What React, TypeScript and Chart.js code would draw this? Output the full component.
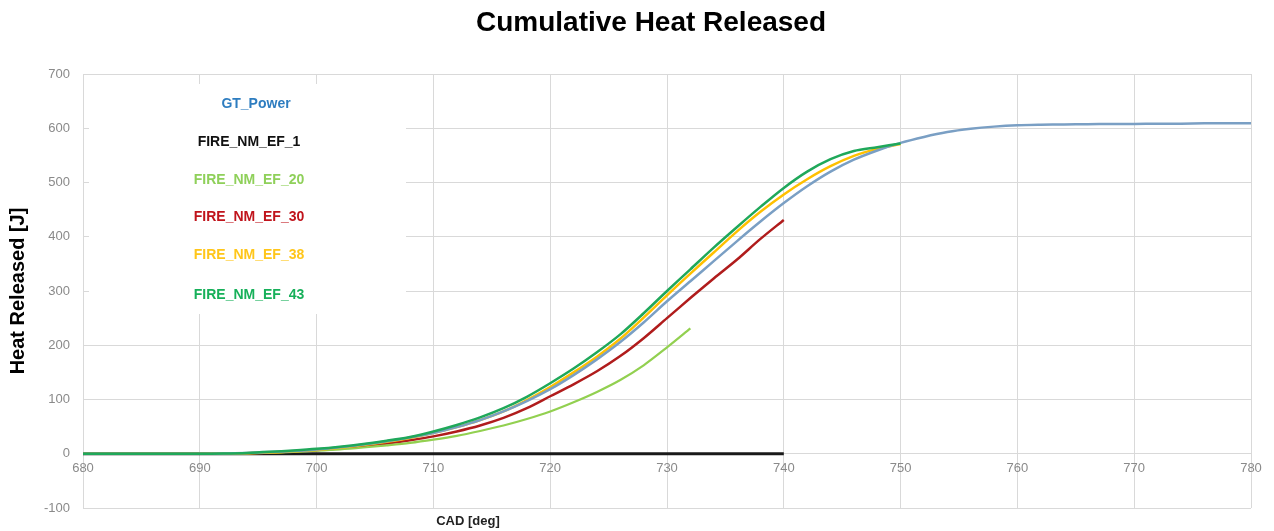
import React, { useEffect, useRef } from "react";
import { Chart, registerables } from "chart.js";

Chart.register(...registerables);

// Crank angle (deg), shared x values
const CAD = [
  680, 682, 684, 686, 688, 690, 692, 694, 696, 698, 700, 702, 704, 706, 708, 710,
  712, 714, 716, 718, 720, 722, 724, 726, 728, 730, 732, 734, 736, 738, 740, 742,
  744, 746, 748, 750, 752, 754, 756, 758, 760, 762, 764, 766, 768, 770, 772, 774,
  776, 778, 780,
];

const GT_POWER = [
  0, 0, 0, 0, 0, 0, 0.5, 1.5, 3, 5, 8, 12, 17, 23, 30, 38,
  49, 62, 78, 97, 119, 145, 174, 206, 242, 281, 318, 355, 392, 428, 462, 493,
  520, 542, 559, 573, 584, 593, 599, 603, 605.5, 606.5, 607, 607.5, 608, 608, 608.5, 608.5,
  609, 609, 609,
];

const EF_1 = [
  0, 0, 0, 0, 0, 0, 0, 0, 0, 0, 0, 0, 0, 0, 0, 0,
  0, 0, 0, 0, 0, 0, 0, 0, 0, 0, 0, 0, 0, 0, 0,
];

const EF_20 = [
  0, 0, 0, 0, 0, 0, 0.2, 0.8, 1.8, 3.5, 5.5, 8, 11.5, 15.5, 20, 26,
  33, 42, 52, 64, 78, 95, 114, 136, 163, 196, 231,
];

const EF_30 = [
  0, 0, 0, 0, 0, 0, 0.3, 1, 2, 4, 6.5, 10, 14, 19, 25, 32,
  41, 52, 66, 84, 106, 128, 152, 180, 213, 250, 287, 323, 358, 396, 431,
];

const EF_38 = [
  0, 0, 0, 0, 0, 0, 0.3, 1, 2.5, 4.5, 7, 11, 16, 22, 29, 38,
  49, 62, 78, 99, 123, 150, 179, 212, 251, 292, 332, 371, 410, 446, 478, 506,
  530, 549, 562, 571,
];

const EF_43 = [
  0, 0, 0, 0, 0, 0, 0.5, 1.5, 3.5, 6, 9, 13, 18, 24, 31, 41,
  53, 67, 84, 105, 130, 157, 187, 220, 259, 300, 340, 380, 418, 455, 490, 520,
  543, 558, 565, 572,
];

const LABELS = ["GT_Power", "FIRE_NM_EF_1", "FIRE_NM_EF_20", "FIRE_NM_EF_30", "FIRE_NM_EF_38", "FIRE_NM_EF_43"];
const LINE_COLORS = ["#7a9fc4", "#1a1a1a", "#92d050", "#b01c1c", "#ffc000", "#1fa85a"];
const TEXT_COLORS = ["#2e7dc0", "#111111", "#8fd05a", "#c0141c", "#ffc61a", "#17b05a"];
const SERIES = [GT_POWER, EF_1, EF_20, EF_30, EF_38, EF_43];
const DRAW_ORDER = [2, 6, 4, 5, 3, 1];
const LINE_WIDTHS = [2.5, 3, 2.2, 2.5, 2.5, 2.5];

const TITLE = "Cumulative Heat Released";
const X_TITLE = "CAD [deg]";
const Y_TITLE = "Heat Released [J]";

export default function App() {
  const ref = useRef<HTMLCanvasElement>(null);

  useEffect(() => {
    if (!ref.current) return;
    const FONT = "'Liberation Sans', Arial, sans-serif";

    const overlay = {
      id: "overlay",
      beforeDatasetsDraw(chart: any) {
        const ctx = chart.ctx;
        ctx.save();
        ctx.fillStyle = "#ffffff";
        ctx.fillRect(89, 84, 317, 230);
        ctx.font = `bold 14px ${FONT}`;
        ctx.textAlign = "center";
        ctx.textBaseline = "middle";
        const ys = [104, 142, 180, 217, 255, 295];
        LABELS.forEach((l, i) => {
          ctx.fillStyle = TEXT_COLORS[i];
          ctx.fillText(l, i === 0 ? 256 : 249, ys[i]);
        });
        ctx.restore();
      },
      afterDraw(chart: any) {
        const ctx = chart.ctx;
        ctx.save();
        ctx.fillStyle = "#000";
        ctx.textAlign = "center";
        ctx.textBaseline = "middle";
        ctx.font = `bold 28px ${FONT}`;
        ctx.fillText(TITLE, 651, 23, 350);
        ctx.font = `bold 13px ${FONT}`;
        ctx.fillStyle = "#222";
        ctx.fillText(X_TITLE, 468, 521);
        ctx.restore();
      },
    };

    const chart = new Chart(ref.current, {
      type: "line",
      data: {
        datasets: SERIES.map((s, i) => ({
          label: LABELS[i],
          data: s.map((y, j) => ({ x: CAD[j], y })),
          borderColor: LINE_COLORS[i],
          backgroundColor: LINE_COLORS[i],
          borderWidth: LINE_WIDTHS[i],
          pointRadius: 0,
          tension: 0.3,
          order: DRAW_ORDER[i],
          fill: false,
        })),
      },
      options: {
        responsive: false,
        animation: false,
        layout: { padding: { left: 0, top: 74, right: 23, bottom: 23 } },
        plugins: {
          legend: { display: false },
          title: { display: false },
          tooltip: { enabled: false },
        },
        scales: {
          x: {
            type: "linear",
            position: { y: 0 } as any,
            min: 680,
            max: 780,
            ticks: {
              stepSize: 10,
              color: "#8a8a8a",
              font: { family: FONT, size: 13 },
              padding: 7,
              maxRotation: 0,
            },
            grid: { color: "#d9d9d9", lineWidth: 1, drawTicks: false },
            border: { display: false },
          },
          y: {
            type: "linear",
            min: -100,
            max: 700,
            afterFit(scale: any) {
              scale.width = 83;
            },
            ticks: {
              stepSize: 100,
              color: "#8a8a8a",
              font: { family: FONT, size: 13 },
              padding: 13,
            },
            grid: { color: "#d9d9d9", lineWidth: 1, drawTicks: false },
            border: { display: false },
            title: {
              display: true,
              text: Y_TITLE,
              color: "#000",
              font: { family: FONT, size: 20, weight: "bold" },
              padding: { top: 6, bottom: 0 },
            },
          },
        },
      },
      plugins: [overlay],
    });
    return () => chart.destroy();
  }, []);

  return (
    <div style={{ position: "fixed", left: 0, top: 0, width: 1274, height: 531, background: "#fff" }}>
      <canvas ref={ref} width={1274} height={531} style={{ display: "block" }} />
    </div>
  );
}
